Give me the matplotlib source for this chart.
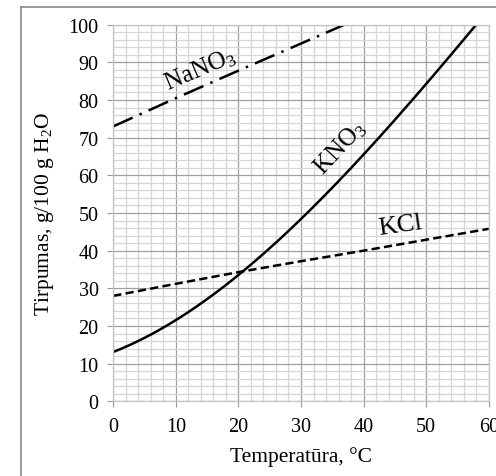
import numpy as np
import matplotlib.pyplot as plt
from matplotlib.lines import Line2D

# solubility, g per 100 g water
temp = [0, 10, 20, 30, 40, 50, 60]
kno3 = [13.0, 22.0, 32.8, 49.0, 65.3, 84.3, 104.0]
kcl = [28.0, 31.2, 34.3, 37.2, 40.0, 42.9, 45.8]
nano3_temp = [0, 10, 20, 30, 40]
nano3 = [73.0, 80.5, 87.8, 95.0, 102.2]

plt.rcParams['font.family'] = ['Liberation Serif', 'DejaVu Serif']
plt.rcParams['mathtext.fontset'] = 'custom'
plt.rcParams['mathtext.rm'] = 'Liberation Serif'
plt.rcParams['mathtext.default'] = 'regular'

fig = plt.figure(figsize=(4.96, 4.77), dpi=100)
ax = fig.add_axes([0.2284, 0.1566, 0.9853 - 0.2284, 0.9461 - 0.1566])

# smooth KNO3 curve through the read points
t_fine = np.linspace(0, 60, 200)
coef = np.polyfit(temp, kno3, 3)
k_fine = np.polyval(coef, t_fine)

ax.plot(t_fine, k_fine, color='black', lw=1.8)
ax.plot(temp, kcl, color='black', lw=1.8, linestyle=(0, (3.3, 1.7)))
ax.plot(nano3_temp, nano3, color='black', lw=1.8, linestyle=(0, (8.5, 3, 1, 3)))

ax.set_xlim(0, 60)
ax.set_ylim(0, 100)
ax.set_xticks(range(0, 61, 10))
ax.set_yticks(range(0, 101, 10))
ax.set_xticks(range(0, 61, 2), minor=True)
ax.set_yticks(range(0, 101, 2), minor=True)
ax.grid(True, which='major', color='#a0a0a0', lw=0.9)
ax.grid(True, which='minor', color='#d6d6d6', lw=0.9)
ax.set_axisbelow(True)
for s in ax.spines.values():
    s.set_color('#c4c4c4')
    s.set_linewidth(0.9)
ax.tick_params(which='major', length=4.5, color='#9a9a9a', labelsize=14.5, pad=6)
ax.tick_params(which='minor', length=0)
ax.tick_params(axis='x', pad=7)

ax.set_xlabel('Temperatūra, °C', fontsize=15.5, labelpad=7)
ax.set_ylabel('Tirpumas, g/100 g H$_2$O', fontsize=15.5, labelpad=9)

ax.text(13.8, 88.3, 'NaNO$_3$', fontsize=18, rotation=23, ha='center', va='center')
ax.text(36.3, 67.5, 'KNO$_3$', fontsize=18, rotation=47, ha='center', va='center')
ax.text(45.8, 46.8, 'KCl', fontsize=19, rotation=8, ha='center', va='center')

# outer chart frame (cropped at right and bottom)
fig.add_artist(Line2D([21 / 496, 1], [1 - 8 / 477] * 2, color='#8a8a8a', lw=1.2))
fig.add_artist(Line2D([21 / 496] * 2, [0, 1 - 8 / 477], color='#8a8a8a', lw=1.2))

fig.savefig('out.png', dpi=100)
